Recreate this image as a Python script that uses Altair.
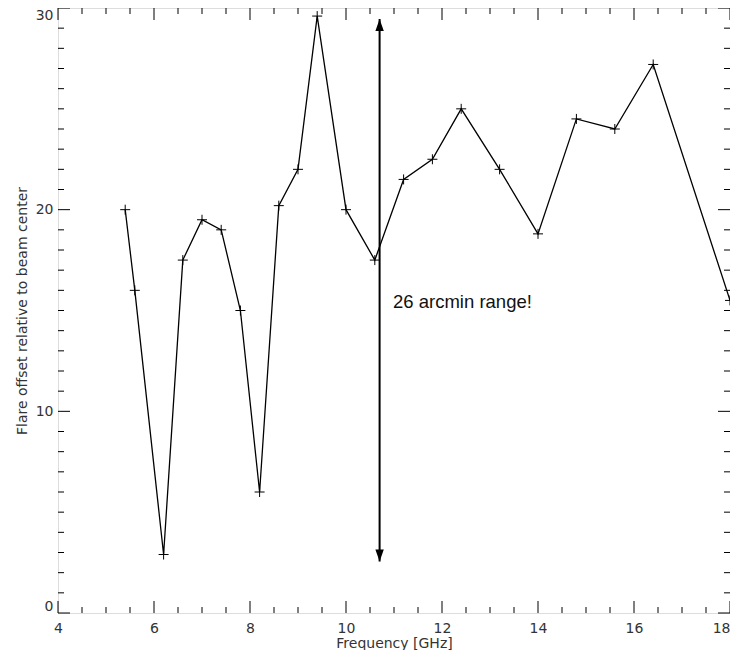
import altair as alt
import pandas as pd

# ---- data ----
freq = [5.4, 5.6, 6.2, 6.6, 7.0, 7.4, 7.8, 8.2, 8.6, 9.0, 9.4, 10.0,
        10.6, 11.2, 11.8, 12.4, 13.2, 14.0, 14.8, 15.6, 16.4, 18.0]
offset = [20.0, 16.0, 2.9, 17.5, 19.5, 19.0, 15.0, 6.0, 20.2, 22.0, 29.6, 20.0,
          17.5, 21.5, 22.5, 25.0, 22.0, 18.8, 24.5, 24.0, 27.2, 15.5]

x_major = [4, 6, 8, 10, 12, 14, 16, 18]
y_major = [0, 10, 20, 30]
x_minor = [4 + 0.5 * i for i in range(29) if (4 + 0.5 * i) not in x_major]
y_minor = [i for i in range(31) if i not in y_major]

arrow_x = [10.7]
arrow_lo = [2.55]
arrow_hi = [29.45]
note = ["26 arcmin range!"]
note_x = [10.98]
note_y = [15.1]

XD = [4, 18]
YD = [0, 30]
W, H = 672, 605

# tick lengths in data units (inward ticks)
ymaj = 12 / H * (YD[1] - YD[0])
ymin = 6 / H * (YD[1] - YD[0])
xmaj = 12 / W * (XD[1] - XD[0])
xmin = 6 / W * (XD[1] - XD[0])

rows = []
for v in x_major + x_minor:
    L = ymaj if v in x_major else ymin
    rows.append(dict(x=v, x2=v, y=YD[0], y2=YD[0] + L))
    rows.append(dict(x=v, x2=v, y=YD[1], y2=YD[1] - L))
for v in y_major + y_minor:
    L = xmaj if v in y_major else xmin
    rows.append(dict(x=XD[0], x2=XD[0] + L, y=v, y2=v))
    rows.append(dict(x=XD[1], x2=XD[1] - L, y=v, y2=v))
ticks_df = pd.DataFrame(rows)

df = pd.DataFrame({"freq": freq, "offset": offset})
arrow_df = pd.DataFrame({"x": arrow_x, "lo": arrow_lo, "hi": arrow_hi})
note_df = pd.DataFrame({"x": note_x, "y": note_y, "t": note})

xscale = alt.Scale(domain=XD, nice=False, zero=False)
yscale = alt.Scale(domain=YD, nice=False, zero=False)

FONT = "DejaVu Sans"
TXT = "#333333"

xaxis = alt.Axis(values=x_major, ticks=False, tickSize=0, domain=False, grid=False,
                 labelFont=FONT, labelFontSize=14, labelColor=TXT, labelPadding=8,
                 labelFlush=False,
                 labelAlign={"condition": {"test": f"datum.value === {XD[1]}", "value": "right"},
                             "value": "center"},
                 title="Frequency [GHz]", titleFont=FONT,
                 titleFontSize=14, titleFontWeight="normal", titleColor=TXT,
                 titleBaseline="alphabetic", titleY=34)
yaxis = alt.Axis(values=y_major, ticks=False, tickSize=0, domain=False, grid=False,
                 labelFont=FONT, labelFontSize=14, labelColor=TXT, labelPadding=5,
                 labelFlush=True, title="Flare offset relative to beam center",
                 titleFont=FONT, titleFontSize=14, titleFontWeight="normal",
                 titleColor=TXT, titlePadding=6)

base = alt.Chart(df)
line = base.mark_line(color="black", strokeWidth=1.3).encode(
    x=alt.X("freq:Q", scale=xscale, axis=xaxis),
    y=alt.Y("offset:Q", scale=yscale, axis=yaxis),
)
pts = base.mark_point(shape="M-1,0L1,0M0,-1L0,1", size=100, filled=False,
                      stroke="black", strokeWidth=1, opacity=1).encode(
    x=alt.X("freq:Q", scale=xscale),
    y=alt.Y("offset:Q", scale=yscale),
)

ticks = alt.Chart(ticks_df).mark_rule(color="black", strokeWidth=1).encode(
    x=alt.X("x:Q", scale=xscale), x2="x2:Q",
    y=alt.Y("y:Q", scale=yscale), y2="y2:Q",
)

shaft = alt.Chart(arrow_df).mark_rule(color="black", strokeWidth=2).encode(
    x=alt.X("x:Q", scale=xscale),
    y=alt.Y("lo:Q", scale=yscale), y2="hi:Q",
)
head_top = alt.Chart(arrow_df).mark_point(shape="M0,0L-0.7,2L0.7,2Z", size=144,
                                          filled=True, color="black", opacity=1).encode(
    x=alt.X("x:Q", scale=xscale), y=alt.Y("hi:Q", scale=yscale))
head_bot = alt.Chart(arrow_df).mark_point(shape="M0,0L-0.7,-2L0.7,-2Z", size=144,
                                          filled=True, color="black", opacity=1).encode(
    x=alt.X("x:Q", scale=xscale), y=alt.Y("lo:Q", scale=yscale))

label = alt.Chart(note_df).mark_text(align="left", baseline="alphabetic",
                                     font="Liberation Sans", fontSize=18.5,
                                     color="#111111").encode(
    x=alt.X("x:Q", scale=xscale), y=alt.Y("y:Q", scale=yscale), text="t:N")

chart = alt.layer(ticks, line, pts, shaft, head_top, head_bot, label).properties(
    width=W, height=H,
    autosize=alt.AutoSizeParams(type="none"),
    padding={"left": 50, "top": 0, "right": 0, "bottom": 37},
).configure_view(stroke="black", strokeWidth=1.3).configure(background="white")

chart.save("out.html", embed_options={"renderer": "svg", "actions": False})
